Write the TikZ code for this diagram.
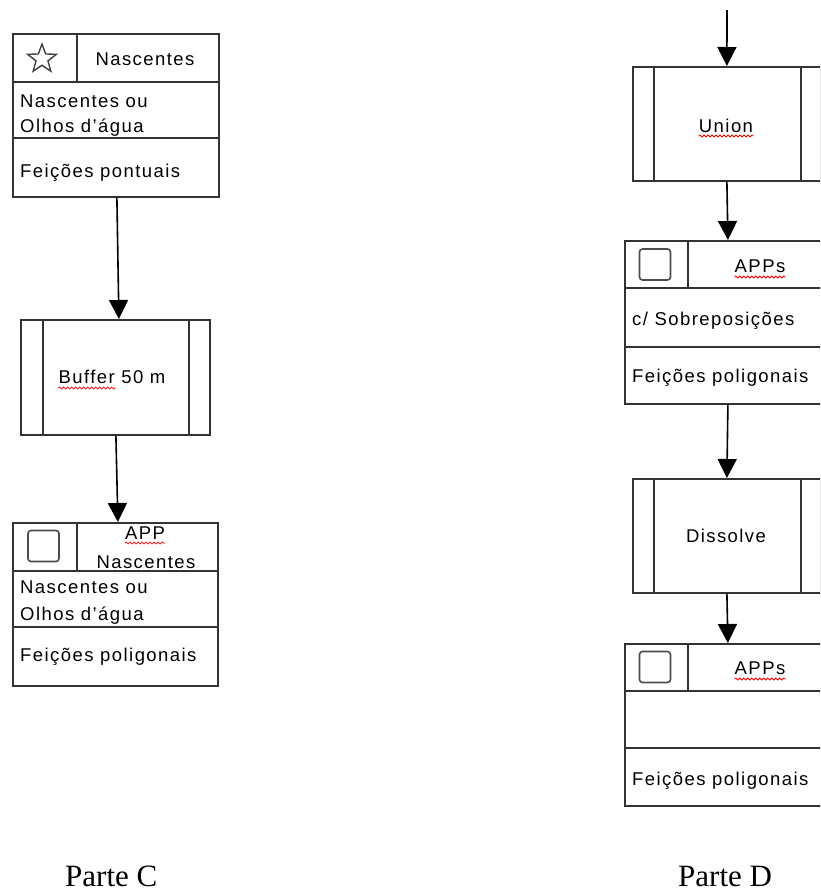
\documentclass[tikz,border=0pt]{standalone}
\usepackage{fontspec}
\setmainfont{Liberation Serif}
\newfontfamily\arialf[LetterSpace=7.8]{Liberation Sans}
\usetikzlibrary{arrows.meta,shapes.geometric,decorations.pathmorphing,calc}
\begin{document}
\begin{tikzpicture}[x=1pt,y=-1pt,
  outer/.style={draw=black!80, line width=1.8pt, fill=white, inner sep=0pt, anchor=north west, rectangle},
  inner/.style={draw=black!80, line width=1.8pt},
  txt/.style={font=\arialf\fontsize{18.5}{22}\selectfont, inner sep=0pt, text=black},
  captxt/.style={font=\fontsize{31}{36}\selectfont, inner sep=0pt, text=black, text depth=0pt},
  arr/.style={draw=black, line width=1.6pt, -{Triangle[length=19pt,width=19pt]}},
  sqicon/.style={draw=black!70, line width=1.6pt, rounded corners=3pt, minimum size=31pt, inner sep=0pt, rectangle},
  staricon/.style={draw=black!75, line width=1.4pt, star, star points=5, star point ratio=2.4, minimum size=30pt, inner sep=0pt},
  spell/.style={draw=red, line width=0.8pt, decorate, decoration={snake, segment length=4pt, amplitude=1pt}}]
\useasboundingbox (0,0) rectangle (820,892);
\clip (0,0) rectangle (820,892);
\fill[white] (0,0) rectangle (820,892);

% ---------- Parte C ----------
\node[outer, minimum width=206pt, minimum height=163pt] (c1) at (12,33) {};
\draw[inner] ($(c1.north west)+(0,49)$) -- ($(c1.north east)+(0,49)$);
\draw[inner] ($(c1.north west)+(0,105)$) -- ($(c1.north east)+(0,105)$);
\draw[inner] ($(c1.north west)+(65,0)$) -- ($(c1.north west)+(65,49)$);
\node[staricon] (c1icon) at (42,59) {};
\node[txt, anchor=base] (c1title) at (145,65) {Nascentes};
\node[txt, anchor=base west] (c1l1) at (20,107) {Nascentes ou};
\node[txt, anchor=base west] (c1l2) at (20,132) {Olhos d’água};
\node[txt, anchor=base west] (c1l3) at (20,177) {Feições pontuais};

\node[outer, minimum width=189pt, minimum height=115pt] (buf) at (20,319) {};
\draw[inner] ($(buf.north west)+(23,0)$) -- ($(buf.south west)+(23,0)$);
\draw[inner] ($(buf.north east)+(-22,0)$) -- ($(buf.south east)+(-22,0)$);
\node[txt, anchor=base] (buftxt) at (112,383) {Buffer 50 m};
\draw[spell] ($(buftxt.base west)+(0,5)$) -- ++(57,0);

\node[outer, minimum width=205pt, minimum height=163pt] (c3) at (12,522) {};
\draw[inner] ($(c3.north west)+(0,49)$) -- ($(c3.north east)+(0,49)$);
\draw[inner] ($(c3.north west)+(0,105)$) -- ($(c3.north east)+(0,105)$);
\draw[inner] ($(c3.north west)+(65,0)$) -- ($(c3.north west)+(65,49)$);
\node[sqicon] (c3icon) at (43.5,546) {};
\node[txt, anchor=base] (c3t1) at (145,539) {APP};
\draw[spell] ($(c3t1.base west)+(0,4)$) -- ($(c3t1.base east)+(0,4)$);
\node[txt, anchor=base] (c3t2) at (146,568) {Nascentes};
\node[txt, anchor=base west] (c3l1) at (20,593) {Nascentes ou};
\node[txt, anchor=base west] (c3l2) at (20,620) {Olhos d’água};
\node[txt, anchor=base west] (c3l3) at (20,661) {Feições poligonais};

\draw[arr] ($(c1.south)+(1,0)$) -- ($(buf.north)+(3.5,0)$);
\draw[arr] ($(buf.south)+(0.5,0)$) -- ($(c3.north)+(2.5,0)$);

\node[captxt, anchor=base west] (partec) at (65,886) {Parte C};

% ---------- Parte D ----------
\coordinate (start) at (727,10);
\node[outer, minimum width=188pt, minimum height=114pt] (uni) at (632,66) {};
\draw[inner] ($(uni.north west)+(22,0)$) -- ($(uni.south west)+(22,0)$);
\draw[inner] ($(uni.north east)+(-21,0)$) -- ($(uni.south east)+(-21,0)$);
\node[txt, anchor=base] (unitxt) at (726,132) {Union};
\draw[spell] ($(unitxt.base west)+(0,4)$) -- ($(unitxt.base east)+(0,4)$);

\node[outer, minimum width=206pt, minimum height=163pt] (d1) at (624,240) {};
\draw[inner] ($(d1.north west)+(0,48)$) -- ($(d1.north east)+(0,48)$);
\draw[inner] ($(d1.north west)+(0,107)$) -- ($(d1.north east)+(0,107)$);
\draw[inner] ($(d1.north west)+(64,0)$) -- ($(d1.north west)+(64,48)$);
\node[sqicon] (d1icon) at (655,264.5) {};
\node[txt, anchor=base] (d1t) at (760,272) {APPs};
\draw[spell] ($(d1t.base west)+(0,5)$) -- ($(d1t.base east)+(0,5)$);
\node[txt, anchor=base west] (d1l1) at (632,325) {c/ Sobreposições};
\node[txt, anchor=base west] (d1l2) at (632,382) {Feições poligonais};

\node[outer, minimum width=188pt, minimum height=114pt] (dis) at (632,478) {};
\draw[inner] ($(dis.north west)+(22,0)$) -- ($(dis.south west)+(22,0)$);
\draw[inner] ($(dis.north east)+(-21,0)$) -- ($(dis.south east)+(-21,0)$);
\node[txt, anchor=base] (distxt) at (726,542) {Dissolve};

\node[outer, minimum width=206pt, minimum height=162pt] (d2) at (624,643) {};
\draw[inner] ($(d2.north west)+(0,48)$) -- ($(d2.north east)+(0,48)$);
\draw[inner] ($(d2.north west)+(0,105)$) -- ($(d2.north east)+(0,105)$);
\draw[inner] ($(d2.north west)+(64,0)$) -- ($(d2.north west)+(64,48)$);
\node[sqicon] (d2icon) at (655,667) {};
\node[txt, anchor=base] (d2t) at (760,674) {APPs};
\draw[spell] ($(d2t.base west)+(0,5)$) -- ($(d2t.base east)+(0,5)$);
\node[txt, anchor=base west] (d2l2) at (632,785) {Feições poligonais};

\draw[arr] (start) -- (uni.north);
\draw[arr] (uni.south) -- (d1.north);
\draw[arr] (d1.south) -- (dis.north);
\draw[arr] (dis.south) -- (d2.north);

\node[captxt, anchor=base west] (parted) at (678,886) {Parte D};
\end{tikzpicture}
\end{document}
